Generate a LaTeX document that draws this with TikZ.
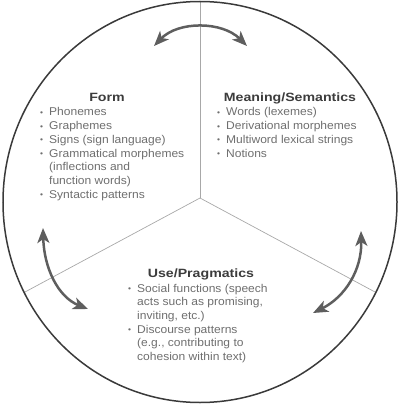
\documentclass[tikz,border=0pt]{standalone}
\usepackage{fontspec}
\setmainfont[FakeStretch=1.065]{Liberation Sans}
\newfontfamily\titlefont[FakeStretch=1.18]{Liberation Sans}
\usetikzlibrary{arrows.meta}
\definecolor{circ}{HTML}{3A3A3A}
\definecolor{divl}{HTML}{A8A8A8}
\definecolor{arr}{HTML}{5E5E5E}
\definecolor{txt}{HTML}{6E6E6E}
\definecolor{ttl}{HTML}{3C3C3C}
\newcommand{\bitem}[1]{\makebox[9pt][l]{\raisebox{0.5pt}{\fontsize{8}{8}\selectfont\textbullet}}#1}
\newcommand{\bcont}[1]{\hspace*{9pt}#1}
\tikzset{
  listtxt/.style={anchor=base west, inner sep=0pt, text=txt, font=\fontsize{11.3}{13.7}\selectfont},
  titletxt/.style={anchor=base, inner sep=0pt, text=ttl, font=\titlefont\fontsize{12}{14}\selectfont\bfseries},
  cyc/.style={draw=arr, line width=2.5pt, {Stealth[length=15pt,width=12pt,inset=4pt]}-{Stealth[length=15pt,width=12pt,inset=4pt]}},
  divider/.style={draw=divl, line width=0.7pt}
}
\begin{document}
\begin{tikzpicture}[x=1pt,y=-1pt]
\useasboundingbox (0,0) rectangle (400,406);
\coordinate (c) at (200,202);
\coordinate (m) at (200,198);
\coordinate (vt) at (200,2);
\coordinate (ll) at (25,292);
\coordinate (rl) at (375,292);
\draw[divider] (m) -- (vt);
\draw[divider] (m) -- (ll);
\draw[divider] (m) -- (rl);
\draw[circ, line width=1.5pt] (c) ellipse [x radius=197, y radius=200.5];

\coordinate (t1) at (154,46);
\coordinate (t2) at (247,46);
\coordinate (l1) at (43,228);
\coordinate (l2) at (88,309);
\coordinate (r1) at (361,231);
\coordinate (r2) at (313,313);
\draw[cyc] (t1) .. controls (178,21) and (222,21) .. (t2);
\draw[cyc] (l1) .. controls (44,268) and (58,297) .. (l2);
\draw[cyc] (r1) .. controls (362,270) and (345,297) .. (r2);

\node[titletxt] (formt) at (107,102) {Form};
\node[listtxt] (forml) at (40,116) {\parbox[t]{170pt}{\bitem{Phonemes}\\
\bitem{Graphemes}\\
\bitem{Signs (sign language)}\\
\bitem{Grammatical morphemes}\\
\bcont{(inflections and}\\
\bcont{function words)}\\
\bitem{Syntactic patterns}}};

\node[titletxt] (meant) at (290,102) {Meaning/Semantics};
\node[listtxt] (meanl) at (217,116) {\parbox[t]{170pt}{\bitem{Words (lexemes)}\\
\bitem{Derivational morphemes}\\
\bitem{Multiword lexical strings}\\
\bitem{Notions}}};

\node[titletxt] (uset) at (201,277) {Use/Pragmatics};
\node[listtxt] (usel) at (128,292) {\parbox[t]{170pt}{\bitem{Social functions (speech}\\
\bcont{acts such as promising,}\\
\bcont{inviting, etc.)}\\
\bitem{Discourse patterns}\\
\bcont{(e.g., contributing to}\\
\bcont{cohesion within text)}}};
\end{tikzpicture}
\end{document}
